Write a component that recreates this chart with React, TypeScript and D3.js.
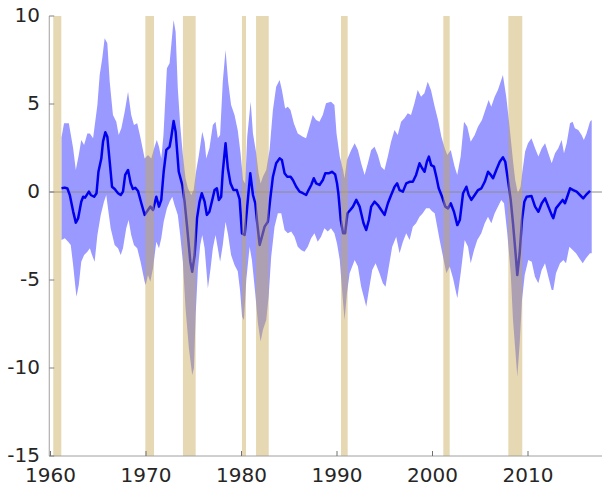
import React from "react";
import * as d3 from "d3";

type Pt = [number, number];

// Recession periods (start year, end year)
const recessions: Pt[] = [
  [1960.29, 1961.13],
  [1969.93, 1970.84],
  [1973.87, 1975.2],
  [1980.05, 1980.47],
  [1981.52, 1982.85],
  [1990.42, 1991.12],
  [2001.13, 2001.8],
  [2007.94, 2009.4],
];

// Point estimate
const estimate: Pt[] = [
  [1961.15, 0.21], [1961.5, 0.25], [1961.77, 0.2], [1962.02, -0.17], [1962.37, -1.1],
  [1962.65, -1.74], [1962.89, -1.5], [1963.22, -0.55], [1963.42, -0.27], [1963.62, -0.32],
  [1964.02, 0.02], [1964.22, -0.17], [1964.57, -0.27], [1964.82, -0.07], [1965.02, 1.15],
  [1965.32, 1.9], [1965.5, 2.86], [1965.74, 3.39], [1965.95, 3.14], [1966.2, 1.72],
  [1966.44, 0.3], [1966.72, 0.17], [1967.07, -0.07], [1967.35, -0.17], [1967.59, 0.02],
  [1967.82, 0.97], [1968.12, 1.25], [1968.4, 0.49], [1968.63, 0.17], [1968.88, 0.24],
  [1969.16, 0.06], [1969.51, -0.64], [1969.86, -1.3], [1970.21, -1.02], [1970.45, -0.83],
  [1970.73, -1.02], [1971.08, -0.27], [1971.36, -0.83], [1971.6, -0.45], [1971.85, 1.15],
  [1972.13, 2.39], [1972.47, 2.57], [1972.63, 3.05], [1972.89, 4.03], [1973.1, 3.43],
  [1973.43, 1.15], [1973.8, 0.4], [1974.04, -0.55], [1974.32, -2.06], [1974.64, -3.96],
  [1974.84, -4.53], [1975.09, -3.58], [1975.34, -1.5], [1975.61, -0.55], [1975.84, -0.07],
  [1976.14, -0.55], [1976.37, -1.3], [1976.64, -1.12], [1976.94, -0.45], [1977.18, 0.11],
  [1977.42, 0.21], [1977.63, -0.45], [1977.87, -0.27], [1978.04, 1.15], [1978.33, 2.77],
  [1978.57, 1.35], [1978.85, 0.49], [1979.16, 0.11], [1979.51, 0.11], [1979.8, -0.4],
  [1980.05, -2.35], [1980.33, -2.44], [1980.6, -0.83], [1980.92, 1.06], [1981.2, -0.17],
  [1981.44, -0.64], [1981.65, -1.78], [1981.9, -3.01], [1982.14, -2.54], [1982.42, -1.97],
  [1982.76, -1.69], [1983.0, -0.45], [1983.29, 0.87], [1983.63, 1.63], [1983.99, 1.91],
  [1984.23, 1.82], [1984.51, 1.06], [1984.79, 0.87], [1985.14, 0.87], [1985.38, 0.68],
  [1985.73, 0.3], [1986.08, 0.02], [1986.43, -0.07], [1986.77, -0.17], [1987.02, 0.11],
  [1987.3, 0.4], [1987.57, 0.78], [1987.82, 0.49], [1988.17, 0.4], [1988.52, 0.68],
  [1988.77, 1.06], [1989.12, 1.06], [1989.47, 1.15], [1989.81, 1.0], [1990.0, 0.5],
  [1990.14, -0.07], [1990.39, -1.59], [1990.64, -2.35], [1990.85, -2.35], [1991.09, -1.21],
  [1991.39, -1.02], [1991.67, -0.83], [1992.02, -0.45], [1992.37, -0.83], [1992.78, -1.78],
  [1993.06, -2.16], [1993.34, -1.59], [1993.58, -0.83], [1993.93, -0.55], [1994.28, -0.74],
  [1994.63, -1.02], [1994.98, -1.3], [1995.33, -0.64], [1995.67, -0.17], [1996.03, 0.3],
  [1996.3, 0.49], [1996.55, 0.11], [1996.9, 0.02], [1997.25, 0.49], [1997.6, 0.58],
  [1997.94, 0.58], [1998.28, 0.97], [1998.64, 1.63], [1998.92, 1.35], [1999.17, 1.15],
  [1999.41, 1.72], [1999.62, 2.01], [1999.86, 1.53], [2000.15, 1.44], [2000.4, 0.87],
  [2000.65, 0.21], [2001.0, -0.27], [2001.34, -0.83], [2001.62, -0.93], [2001.91, -0.64],
  [2002.25, -1.12], [2002.6, -1.88], [2002.86, -1.59], [2003.2, -0.07], [2003.55, 0.3],
  [2003.79, -0.17], [2004.07, -0.45], [2004.42, -0.17], [2004.77, 0.11], [2005.12, 0.21],
  [2005.47, 0.58], [2005.82, 1.15], [2006.1, 0.97], [2006.34, 0.78], [2006.68, 1.25],
  [2007.04, 1.72], [2007.38, 1.97], [2007.62, 1.72], [2007.9, 0.68], [2008.19, -0.45],
  [2008.43, -1.78], [2008.67, -3.3], [2008.88, -4.72], [2009.13, -3.48], [2009.37, -1.59],
  [2009.62, -0.55], [2009.86, -0.27], [2010.37, -0.23], [2010.74, -0.83], [2011.09, -1.12],
  [2011.44, -0.64], [2011.79, -0.36], [2012.13, -0.83], [2012.48, -1.3], [2012.65, -1.49],
  [2012.93, -0.93], [2013.35, -0.64], [2013.63, -0.45], [2013.87, -0.64], [2014.11, -0.27],
  [2014.4, 0.21], [2014.74, 0.11], [2015.09, 0.02], [2015.44, -0.17], [2015.78, -0.36],
  [2016.07, -0.17], [2016.5, 0.07],
];

// Upper bound of the confidence band
const upperBound: Pt[] = [
  [1961.15, 3.1], [1961.42, 3.9], [1961.92, 3.9], [1962.37, 2.48], [1962.65, 1.25],
  [1962.96, 2.1], [1963.22, 2.95], [1963.52, 2.67], [1963.86, 3.33], [1964.12, 3.33],
  [1964.46, 3.05], [1964.91, 4.94], [1965.15, 6.65], [1965.42, 7.6], [1965.67, 8.73],
  [1965.95, 8.45], [1966.2, 6.27], [1966.54, 4.38], [1966.89, 3.99], [1967.14, 3.24],
  [1967.42, 3.62], [1967.77, 4.56], [1968.12, 5.7], [1968.45, 4.38], [1968.74, 3.8],
  [1969.08, 3.9], [1969.43, 3.05], [1969.86, 1.91], [1970.21, 2.1], [1970.55, 1.91],
  [1970.9, 2.57], [1971.13, 2.95], [1971.36, 2.57], [1971.6, 1.91], [1971.83, 3.24],
  [1972.19, 7.03], [1972.47, 7.31], [1972.68, 8.54], [1972.89, 9.77], [1973.1, 9.1],
  [1973.33, 5.89], [1973.58, 3.8], [1973.86, 2.1], [1974.14, 0.78], [1974.39, 0.21],
  [1974.74, -0.17], [1974.99, 0.11], [1975.24, 1.15], [1975.54, 2.1], [1975.89, 3.43],
  [1976.14, 2.86], [1976.31, 1.91], [1976.64, 2.48], [1977.0, 3.8], [1977.28, 3.99],
  [1977.52, 3.05], [1977.76, 3.24], [1978.04, 6.27], [1978.33, 8.07], [1978.6, 6.27],
  [1978.91, 4.94], [1979.27, 4.38], [1979.61, 3.5], [1979.9, 2.2], [1980.16, 0.68],
  [1980.39, 0.49], [1980.6, 3.14], [1980.96, 5.13], [1981.2, 3.33], [1981.54, 2.2],
  [1981.79, 1.06], [1982.0, 0.49], [1982.24, 0.87], [1982.59, 1.25], [1982.94, 2.39],
  [1983.29, 4.66], [1983.63, 5.98], [1983.99, 6.36], [1984.23, 5.8], [1984.57, 4.75],
  [1984.85, 4.85], [1985.13, 4.66], [1985.48, 3.9], [1985.89, 3.33], [1986.42, 3.14],
  [1986.76, 3.05], [1987.11, 3.71], [1987.46, 4.38], [1987.81, 4.09], [1988.16, 3.99],
  [1988.51, 4.38], [1988.85, 5.04], [1989.37, 5.13], [1989.73, 4.94], [1989.95, 3.33],
  [1990.29, 2.01], [1990.64, 1.25], [1990.79, 0.78], [1991.04, 1.82], [1991.49, 2.39],
  [1991.85, 2.77], [1992.19, 2.39], [1992.53, 1.63], [1992.89, 0.97], [1993.23, 1.63],
  [1993.58, 2.39], [1993.93, 2.57], [1994.28, 2.1], [1994.62, 1.44], [1994.97, 1.25],
  [1995.32, 2.01], [1995.66, 2.86], [1996.02, 3.52], [1996.36, 3.24], [1996.71, 3.99],
  [1997.06, 4.19], [1997.41, 4.47], [1997.75, 4.38], [1998.11, 5.04], [1998.45, 5.8],
  [1998.8, 5.41], [1999.15, 5.61], [1999.5, 6.27], [1999.84, 5.8], [2000.23, 4.85],
  [2000.58, 4.09], [2000.93, 3.14], [2001.28, 2.48], [2001.55, 2.1], [2001.91, 2.39],
  [2002.32, 1.44], [2002.59, 0.97], [2002.95, 2.01], [2003.3, 3.99], [2003.64, 3.71],
  [2004.0, 2.86], [2004.42, 3.24], [2004.76, 3.71], [2005.18, 4.09], [2005.53, 4.66],
  [2005.88, 5.23], [2006.15, 4.85], [2006.51, 5.41], [2006.85, 5.8], [2007.2, 6.36],
  [2007.37, 6.65], [2007.72, 5.41], [2008.07, 3.71], [2008.42, 1.82], [2008.66, 0.68],
  [2008.94, -0.07], [2009.22, 0.3], [2009.4, 1.1], [2009.7, 2.3], [2010.0, 2.77],
  [2010.36, 3.05], [2010.74, 2.48], [2011.09, 2.01], [2011.44, 2.48], [2011.79, 2.77],
  [2012.13, 2.2], [2012.48, 1.63], [2012.83, 2.2], [2013.17, 2.48], [2013.52, 2.95],
  [2013.77, 2.2], [2014.05, 2.77], [2014.4, 3.9], [2014.67, 3.99], [2014.91, 3.62],
  [2015.26, 3.52], [2015.61, 3.24], [2015.85, 2.95], [2016.13, 3.33], [2016.49, 3.99],
  [2016.67, 4.09],
];

// Lower bound of the confidence band
const lowerBound: Pt[] = [
  [1961.15, -2.73], [1961.5, -2.63], [1961.85, -2.82], [1962.12, -3.01], [1962.37, -4.15],
  [1962.62, -5.47], [1962.72, -5.95], [1962.96, -5.28], [1963.22, -3.96], [1963.52, -3.58],
  [1963.86, -3.39], [1964.12, -3.2], [1964.35, -3.58], [1964.62, -3.96], [1964.91, -2.44],
  [1965.26, -1.3], [1965.6, -0.55], [1965.84, -0.17], [1966.02, -0.93], [1966.3, -2.06],
  [1966.72, -3.01], [1967.07, -3.2], [1967.35, -3.58], [1967.59, -3.2], [1967.93, -2.06],
  [1968.18, -1.59], [1968.45, -2.44], [1968.74, -3.01], [1969.08, -3.2], [1969.43, -3.96],
  [1969.86, -5.1], [1969.97, -5.28], [1970.21, -4.72], [1970.45, -5.1], [1970.73, -4.34],
  [1971.08, -2.82], [1971.36, -3.2], [1971.6, -2.63], [1971.85, -1.69], [1972.19, -0.93],
  [1972.47, -0.55], [1972.75, -0.27], [1972.99, -0.74], [1973.33, -1.3], [1973.58, -2.44],
  [1973.86, -3.96], [1974.14, -6.61], [1974.49, -8.88], [1974.84, -10.4], [1975.02, -10.0],
  [1975.2, -6.99], [1975.44, -4.34], [1975.68, -3.01], [1975.89, -2.44], [1976.14, -3.2],
  [1976.48, -5.47], [1976.76, -4.34], [1977.0, -3.2], [1977.28, -2.44], [1977.52, -3.2],
  [1977.76, -3.96], [1978.04, -3.01], [1978.33, -1.69], [1978.6, -2.44], [1978.91, -3.58],
  [1979.27, -4.15], [1979.61, -4.5], [1979.85, -5.6], [1980.06, -7.08], [1980.26, -7.27],
  [1980.5, -5.0], [1980.85, -3.11], [1981.09, -3.86], [1981.44, -5.76], [1981.72, -7.46],
  [1982.0, -8.5], [1982.24, -7.84], [1982.59, -7.27], [1982.84, -5.95], [1983.11, -3.67],
  [1983.46, -1.97], [1983.81, -1.21], [1984.16, -1.21], [1984.51, -2.16], [1984.85, -2.35],
  [1985.2, -2.25], [1985.55, -2.54], [1985.89, -3.11], [1986.24, -3.3], [1986.59, -3.39],
  [1986.94, -3.11], [1987.29, -2.63], [1987.64, -2.35], [1987.98, -2.82], [1988.33, -2.54],
  [1988.68, -2.06], [1989.03, -2.25], [1989.37, -2.06], [1989.73, -2.35], [1990.0, -2.92],
  [1990.29, -3.86], [1990.56, -5.76], [1990.79, -7.27], [1991.04, -5.76], [1991.32, -4.62],
  [1991.59, -4.24], [1991.85, -3.86], [1992.19, -4.24], [1992.53, -5.38], [1992.89, -6.14],
  [1993.06, -6.52], [1993.34, -5.57], [1993.69, -4.43], [1994.04, -4.05], [1994.45, -4.62],
  [1994.8, -5.19], [1995.08, -5.38], [1995.43, -4.24], [1995.78, -3.11], [1996.2, -2.54],
  [1996.55, -3.48], [1996.9, -2.82], [1997.25, -2.35], [1997.6, -2.73], [1997.94, -1.97],
  [1998.28, -1.78], [1998.64, -1.4], [1998.98, -1.21], [1999.33, -0.93], [1999.68, -0.93],
  [1999.95, -1.1], [2000.23, -1.21], [2000.75, -2.73], [2001.1, -3.67], [2001.45, -4.62],
  [2001.8, -4.24], [2002.15, -4.9], [2002.6, -6.04], [2002.95, -4.62], [2003.37, -2.73],
  [2003.72, -3.11], [2004.0, -4.05], [2004.35, -3.3], [2004.69, -2.73], [2005.11, -2.35],
  [2005.47, -1.78], [2005.81, -1.4], [2006.16, -1.78], [2006.51, -1.21], [2006.86, -0.83],
  [2007.2, -0.45], [2007.49, -0.64], [2007.83, -2.35], [2008.19, -4.62], [2008.43, -7.27],
  [2008.67, -8.98], [2008.88, -10.5], [2009.13, -8.6], [2009.37, -6.14], [2009.66, -4.7],
  [2010.03, -3.86], [2010.39, -3.96], [2010.73, -4.81], [2011.08, -5.19], [2011.43, -4.43],
  [2011.78, -4.05], [2012.13, -4.81], [2012.48, -5.57], [2012.65, -5.57], [2012.93, -4.62],
  [2013.35, -4.05], [2013.7, -3.86], [2013.98, -4.05], [2014.33, -3.11], [2014.68, -3.3],
  [2015.03, -3.48], [2015.37, -3.77], [2015.73, -4.05], [2016.07, -3.77], [2016.49, -3.48],
  [2016.67, -3.48],
];

const xTicks = [1960, 1970, 1980, 1990, 2000, 2010];
const yTicks = [10, 5, 0, -5, -10, -15];

const WIDTH = 602;
const HEIGHT = 485;
const FONT = "'DejaVu Sans', sans-serif";

export default function App() {
  const x = d3.scaleLinear().domain([1960, 2010]).range([50.5, 528]);
  const y = d3.scaleLinear().domain([-15, 10]).range([456, 16]);
  const x0 = x(1959.87);
  const xEnd = WIDTH + 4;

  const toPx = (p: Pt): Pt => [x(p[0]), y(p[1])];
  const line = d3.line<Pt>();
  const bandPts = [...upperBound.map(toPx), ...lowerBound.slice().reverse().map(toPx)];
  const bandPath = (line(bandPts) ?? "") + "Z";
  const estPath = line(estimate.map(toPx)) ?? "";

  return (
    <svg
      width={WIDTH}
      height={HEIGHT}
      style={{ position: "absolute", left: 0, top: 0, display: "block", background: "#fff" }}
    >
      {/* confidence band */}
      <path d={bandPath} fill="#9999ff" stroke="none" />
      {/* zero reference line */}
      <line x1={x0} x2={xEnd} y1={y(0)} y2={y(0)} stroke="#8c8c8c" strokeWidth={1} />
      {/* point estimate */}
      <path d={estPath} fill="none" stroke="#0000ee" strokeWidth={2.5} strokeLinejoin="round" />
      {/* recession shading */}
      {recessions.map(([a, b], i) => (
        <rect
          key={i}
          x={x(a)}
          y={y(10)}
          width={x(b) - x(a)}
          height={y(-15) - y(10)}
          fill="rgb(200,168,86)"
          fillOpacity={0.45}
        />
      ))}
      {/* axes */}
      <line x1={x0} x2={x0} y1={y(10)} y2={y(-15)} stroke="#a0a0a0" strokeWidth={1} />
      <line x1={x0} x2={xEnd} y1={y(-15)} y2={y(-15)} stroke="#a0a0a0" strokeWidth={1} />
      {yTicks.map((t) => (
        <g key={t}>
          <line x1={x0} x2={x0 + 5} y1={y(t)} y2={y(t)} stroke="#808080" strokeWidth={1} />
          <text
            x={40}
            y={y(t)}
            textAnchor="end"
            dominantBaseline="middle"
            fontFamily={FONT}
            fontSize={20}
            fill="#262626"
          >
            {t}
          </text>
        </g>
      ))}
      {xTicks.map((t) => (
        <g key={t}>
          <line x1={x(t)} x2={x(t)} y1={y(-15)} y2={y(-15) - 5} stroke="#707070" strokeWidth={1} />
          <text
            x={x(t)}
            y={482}
            textAnchor="middle"
            fontFamily={FONT}
            fontSize={20}
            fill="#262626"
          >
            {t}
          </text>
        </g>
      ))}
    </svg>
  );
}
